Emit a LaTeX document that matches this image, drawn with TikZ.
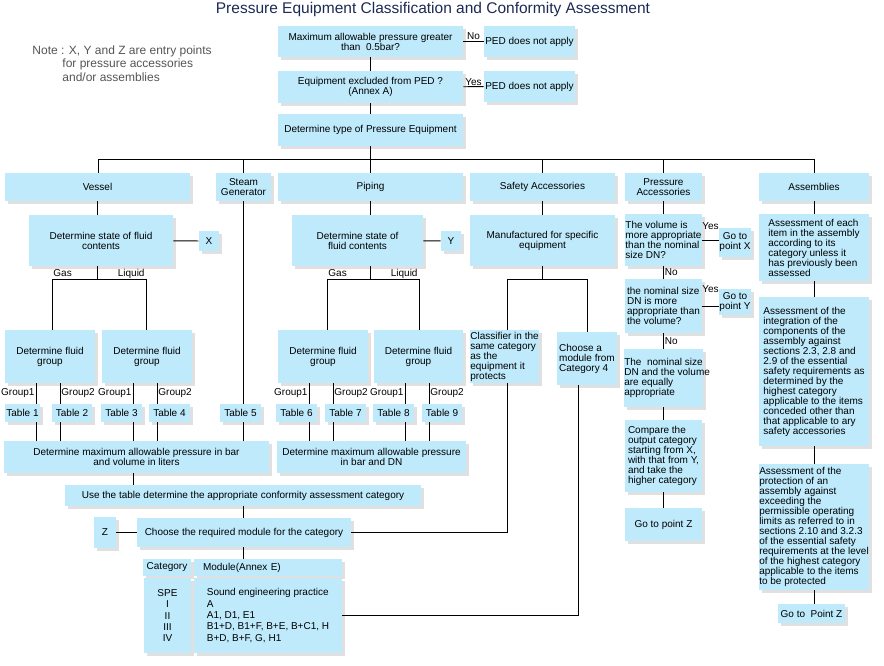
\documentclass[tikz,border=0pt]{standalone}
\usepackage{fontspec}
\setmainfont{Liberation Sans}
\usetikzlibrary{shadows}
\definecolor{boxblue}{RGB}{190,234,252}
\definecolor{shadowgray}{RGB}{224,224,224}
\definecolor{titleblue}{RGB}{28,42,84}
\definecolor{notegray}{RGB}{85,85,85}
\newcommand{\boxfont}{\fontsize{10}{10}\selectfont}
\tikzset{
  pebox/.style={fill=boxblue, inner xsep=0pt, inner ysep=1pt, align=center, font=\boxfont,
    drop shadow={shadow xshift=3pt, shadow yshift=-3pt, fill=shadowgray, opacity=1}},
  sz/.style 2 args={minimum width=#1pt, minimum height=#2pt},
  lbl/.style={font=\boxfont, inner sep=1pt},
}
\begin{document}
\begin{tikzpicture}[x=1pt, y=-1pt, line width=0.9pt]
\useasboundingbox (0,0) rectangle (884,665);

% title and note
\node[font=\fontsize{15.5}{16}\selectfont, text=titleblue, anchor=base, inner sep=0pt] (title) at (433,13.5)
  {Pressure Equipment Classification and Conformity Assessment};
\node[font=\fontsize{12}{13.5}\selectfont, text=notegray, align=left, anchor=west, inner sep=0pt] (note) at (32,63.5)
  {Note : X, Y and Z are entry points\\\hspace*{30pt}for pressure accessories\\\hspace*{30pt}and/or assemblies};

% branch points
\coordinate (busL) at (98,159);
\coordinate (busR) at (814,159);
\coordinate (vgas) at (52,279);
\coordinate (vliq) at (146,279);
\coordinate (pgas) at (327,279);
\coordinate (pliq) at (419,279);
\coordinate (scl) at (507,279);
\coordinate (sch) at (587,279);
\coordinate (m4) at (578,613);
\coordinate (g1) at (36,413);
\coordinate (g2) at (60,413);
\coordinate (g3) at (133,413);
\coordinate (g4) at (157,413);
\coordinate (g6) at (309,413);
\coordinate (g7) at (333,413);
\coordinate (g8) at (405,413);
\coordinate (g9) at (429,413);

\begin{scope}[every node/.style={pebox}]
  % top
  \node[sz={185}{31}] (q1) at (370.5,41.5) {Maximum allowable pressure greater\\than\ \ 0.5bar?};
  \node[sz={91}{31}] (ped1) at (529.5,41.5) {PED does not apply};
  \node[sz={185}{32}] (q2) at (370.5,87) {Equipment excluded from PED ?\\(Annex A)};
  \node[sz={91}{31}] (ped2) at (529.5,86.5) {PED does not apply};
  \node[sz={185}{32}] (ptype) at (370.5,130) {Determine type of Pressure Equipment};
  % types
  \node[sz={185}{28}] (vessel) at (97.5,187) {Vessel};
  \node[sz={55}{28}] (steam) at (243.5,187) {Steam\\Generator};
  \node[sz={185}{28}] (piping) at (370.5,187) {Piping};
  \node[sz={145}{28}] (safety) at (542.5,187) {Safety Accessories};
  \node[sz={77}{28}] (pacc) at (663.5,187) {Pressure\\Accessories};
  \node[sz={110}{28}] (assem) at (814,187) {Assemblies};
  % vessel and piping
  \node[sz={144}{51}] (vstate) at (101,240.5) {Determine state of fluid\\contents};
  \node[sz={20}{20}] (X) at (209,241) {X};
  \node[sz={131}{51}] (pstate) at (357.5,240.5) {Determine state of\\fluid contents};
  \node[sz={20}{20}] (Y) at (451,241) {Y};
  \node[sz={90}{53}] (fg1) at (50,356.5) {Determine fluid\\group};
  \node[sz={90}{53}] (fg2) at (147,356.5) {Determine fluid\\group};
  \node[sz={90}{53}] (fg3) at (323,356.5) {Determine fluid\\group};
  \node[sz={89}{53}] (fg4) at (418.5,356.5) {Determine fluid\\group};
  \node[sz={35}{18}] (tab1) at (22.5,413) {Table 1};
  \node[sz={40}{18}] (tab2) at (72,413) {Table 2};
  \node[sz={41}{18}] (tab3) at (121.5,413) {Table 3};
  \node[sz={41}{18}] (tab4) at (169.5,413) {Table 4};
  \node[sz={41}{18}] (tab5) at (240.5,413) {Table 5};
  \node[sz={41}{18}] (tab6) at (296.5,413) {Table 6};
  \node[sz={41}{18}] (tab7) at (345.5,413) {Table 7};
  \node[sz={41}{18}] (tab8) at (393.5,413) {Table 8};
  \node[sz={40}{18}] (tab9) at (442,413) {Table 9};
  \node[sz={265}{32}] (pmax1) at (136.5,457) {Determine maximum allowable pressure in bar\\and volume in liters};
  \node[sz={189}{32}] (pmax2) at (371.5,457) {Determine maximum allowable pressure\\in bar and DN};
  \node[sz={356}{21}] (usetab) at (243,495.5) {Use the table determine the appropriate conformity assessment category};
  \node[sz={214}{29}] (choose) at (244,532.5) {Choose the required module for the category};
  \node[sz={22}{31}] (Z) at (105,532.5) {Z};
  \node[sz={48}{17}] (cathd) at (167,567.5) {Category};
  \node[sz={148}{17}, text width=130pt, inner xsep=9pt, align=left] (modhd) at (268,567.5) {Module(Annex E)};
  \node[sz={47}{75}, font=\fontsize{10}{11.3}\selectfont] (catv) at (167.5,615.5) {SPE\\I\\II\\III\\IV};
  \node[sz={148}{75}, align=left, font=\fontsize{10}{11.3}\selectfont] (modv) at (268,615.5)
    {Sound engineering practice\\A\\A1, D1, E1\\B1+D, B1+F, B+E, B+C1, H\\B+D, B+F, G, H1};
  % safety accessories
  \node[sz={145}{51}] (manuf) at (542.5,240.5) {Manufactured for specific\\equipment};
  \node[sz={67}{53}, align=left] (classif) at (504.5,356.5) {Classifier in the\\same category\\as the\\equipment it\\protects};
  \node[sz={60}{53}, align=left] (choose4) at (587,358.5) {Choose a\\module from\\Category 4};
  % pressure accessories
  \node[sz={77}{52}, align=left] (vol) at (663.5,240) {The volume is\\more appropriate\\than the nominal\\size DN?};
  \node[sz={32}{29}] (gpx) at (735,242.5) {Go to\\point X};
  \node[sz={77}{54}, align=left] (nom) at (663.5,306) {the nominal size\\DN is more\\appropriate than\\the volume?};
  \node[sz={32}{26}] (gpy) at (735,302) {Go to\\point Y};
  \node[sz={77}{58}, align=left] (equal) at (663.5,378) {The\ \ nominal size\\\makebox[70pt][l]{DN and the volume}\\are equally\\appropriate};
  \node[sz={77}{72}, align=left] (comp) at (663.5,456) {Compare the\\output category\\starting from X,\\with that from Y,\\and take the\\higher category};
  \node[sz={77}{33}] (gpz) at (663.5,524.5) {Go to point Z};
  % assemblies
  \node[sz={110}{67}, align=left] (as1) at (814,247.5) {Assessment of each\\item in the assembly\\according to its\\category unless it\\has previously been\\assessed};
  \node[sz={110}{149}, align=left] (as2) at (814,371.5) {Assessment of the\\integration of the\\components of the\\assembly against\\sections 2.3, 2.8 and\\2.9 of the essential\\safety requirements as\\determined by the\\highest category\\applicable to the items\\conceded other than\\that applicable to ary\\safety accessories};
  \node[sz={110}{126}, align=left] (as3) at (814,527) {Assessment of the\\protection of an\\assembly against\\exceeding the\\permissible operating\\limits as referred to in\\sections 2.10 and 3.2.3\\of the essential safety\\requirements at the level\\of the highest category\\applicable to the items\\to be protected};
  \node[sz={67}{19}] (gpz2) at (811.5,613.5) {Go to\ \ Point Z};
\end{scope}

\begin{scope}[every node/.style={lbl}]
  % top chain and bus
  \draw (q1) -- node[above] (no1) {No} (ped1);
  \draw (q2) -- node[above] (yes1) {Yes} (ped2);
  \draw (q1) -- (q2);
  \draw (q2) -- (ptype);
  \draw (ptype) -- (ptype |- busL);
  \draw (busL) -- (busR);
  \draw (busL) -- (busL |- vessel.north);
  \draw (steam |- busL) -- (steam);
  \draw (piping |- busL) -- (piping);
  \draw (safety |- busL) -- (safety);
  \draw (pacc |- busL) -- (pacc);
  \draw (busR) -- (assem);
  % vessel
  \draw (vessel) -- (vessel |- vstate.north);
  \draw (vstate) -- (X);
  \draw (vessel |- vstate.south) -- (vessel |- vgas);
  \draw (vgas) -- (vliq);
  \draw (vgas) -- (vgas |- fg1.north);
  \draw (vliq) -- (vliq |- fg2.north);
  \node[anchor=base west] (gas1) at ([yshift=3pt]vgas) {Gas};
  \node[anchor=base east] (liq1) at ([yshift=3pt]vliq) {Liquid};
  \draw (g1 |- fg1.south) -- node[left] (gr1) {Group1} (g1 |- tab1.north);
  \draw (g2 |- fg1.south) -- node[right] (gr2) {Group2} (g2 |- tab2.north);
  \draw (g3 |- fg2.south) -- node[left] (gr3) {Group1} (g3 |- tab3.north);
  \draw (g4 |- fg2.south) -- node[right] (gr4) {Group2} (g4 |- tab4.north);
  \draw (g1 |- tab1.south) -- (g1 |- pmax1.north);
  \draw (g2 |- tab2.south) -- (g2 |- pmax1.north);
  \draw (g3 |- tab3.south) -- (g3 |- pmax1.north);
  \draw (g4 |- tab4.south) -- (g4 |- pmax1.north);
  % steam generator
  \draw (steam) -- (steam |- tab5.north);
  \draw (steam |- tab5.south) -- (steam |- pmax1.north);
  % piping
  \draw (piping) -- (piping |- pstate.north);
  \draw (pstate) -- (Y);
  \draw (piping |- pstate.south) -- (piping |- pgas);
  \draw (pgas) -- (pliq);
  \draw (pgas) -- (pgas |- fg3.north);
  \draw (pliq) -- (pliq |- fg4.north);
  \node[anchor=base west] (gas2) at ([yshift=3pt]pgas) {Gas};
  \node[anchor=base east] (liq2) at ([yshift=3pt]pliq) {Liquid};
  \draw (g6 |- fg3.south) -- node[left] (gr6) {Group1} (g6 |- tab6.north);
  \draw (g7 |- fg3.south) -- node[right] (gr7) {Group2} (g7 |- tab7.north);
  \draw (g8 |- fg4.south) -- node[left] (gr8) {Group1} (g8 |- tab8.north);
  \draw (g9 |- fg4.south) -- node[right] (gr9) {Group2} (g9 |- tab9.north);
  \draw (g6 |- tab6.south) -- (g6 |- pmax2.north);
  \draw (g7 |- tab7.south) -- (g7 |- pmax2.north);
  \draw (g8 |- tab8.south) -- (g8 |- pmax2.north);
  \draw (g9 |- tab9.south) -- (g9 |- pmax2.north);
  % category and module
  \draw (g3 |- pmax1.south) -- (g3 |- usetab.north);
  \draw (usetab) -- (usetab |- choose.north);
  \draw (Z) -- (choose);
  \draw (usetab |- choose.south) -- (usetab |- modhd.north);
  % safety accessories
  \draw (safety) -- (manuf);
  \draw (manuf) -- (manuf |- scl);
  \draw (scl) -- (sch);
  \draw (scl) -- (scl |- classif.north);
  \draw (sch) -- (choose4);
  \draw (scl |- classif.south) |- (choose);
  \draw (m4 |- choose4.south) |- (modv);
  % pressure accessories
  \draw (pacc) -- (vol);
  \draw (vol) -- node[above=9pt] (yes2) {Yes} (vol -| gpx.west);
  \draw (vol) -- node[right] (no2) {No} (nom);
  \draw (nom) -- node[above=12pt] (yes3) {Yes} (nom -| gpy.west);
  \draw (nom) -- node[right] (no3) {No} (equal);
  \draw (equal) -- (comp);
  \draw (comp) -- (gpz);
  % assemblies
  \draw (assem) -- (as1);
  \draw (as1) -- (as2);
  \draw (as2) -- (as3);
  \draw (as3) -- (as3 |- gpz2.north);
\end{scope}
\end{tikzpicture}
\end{document}
